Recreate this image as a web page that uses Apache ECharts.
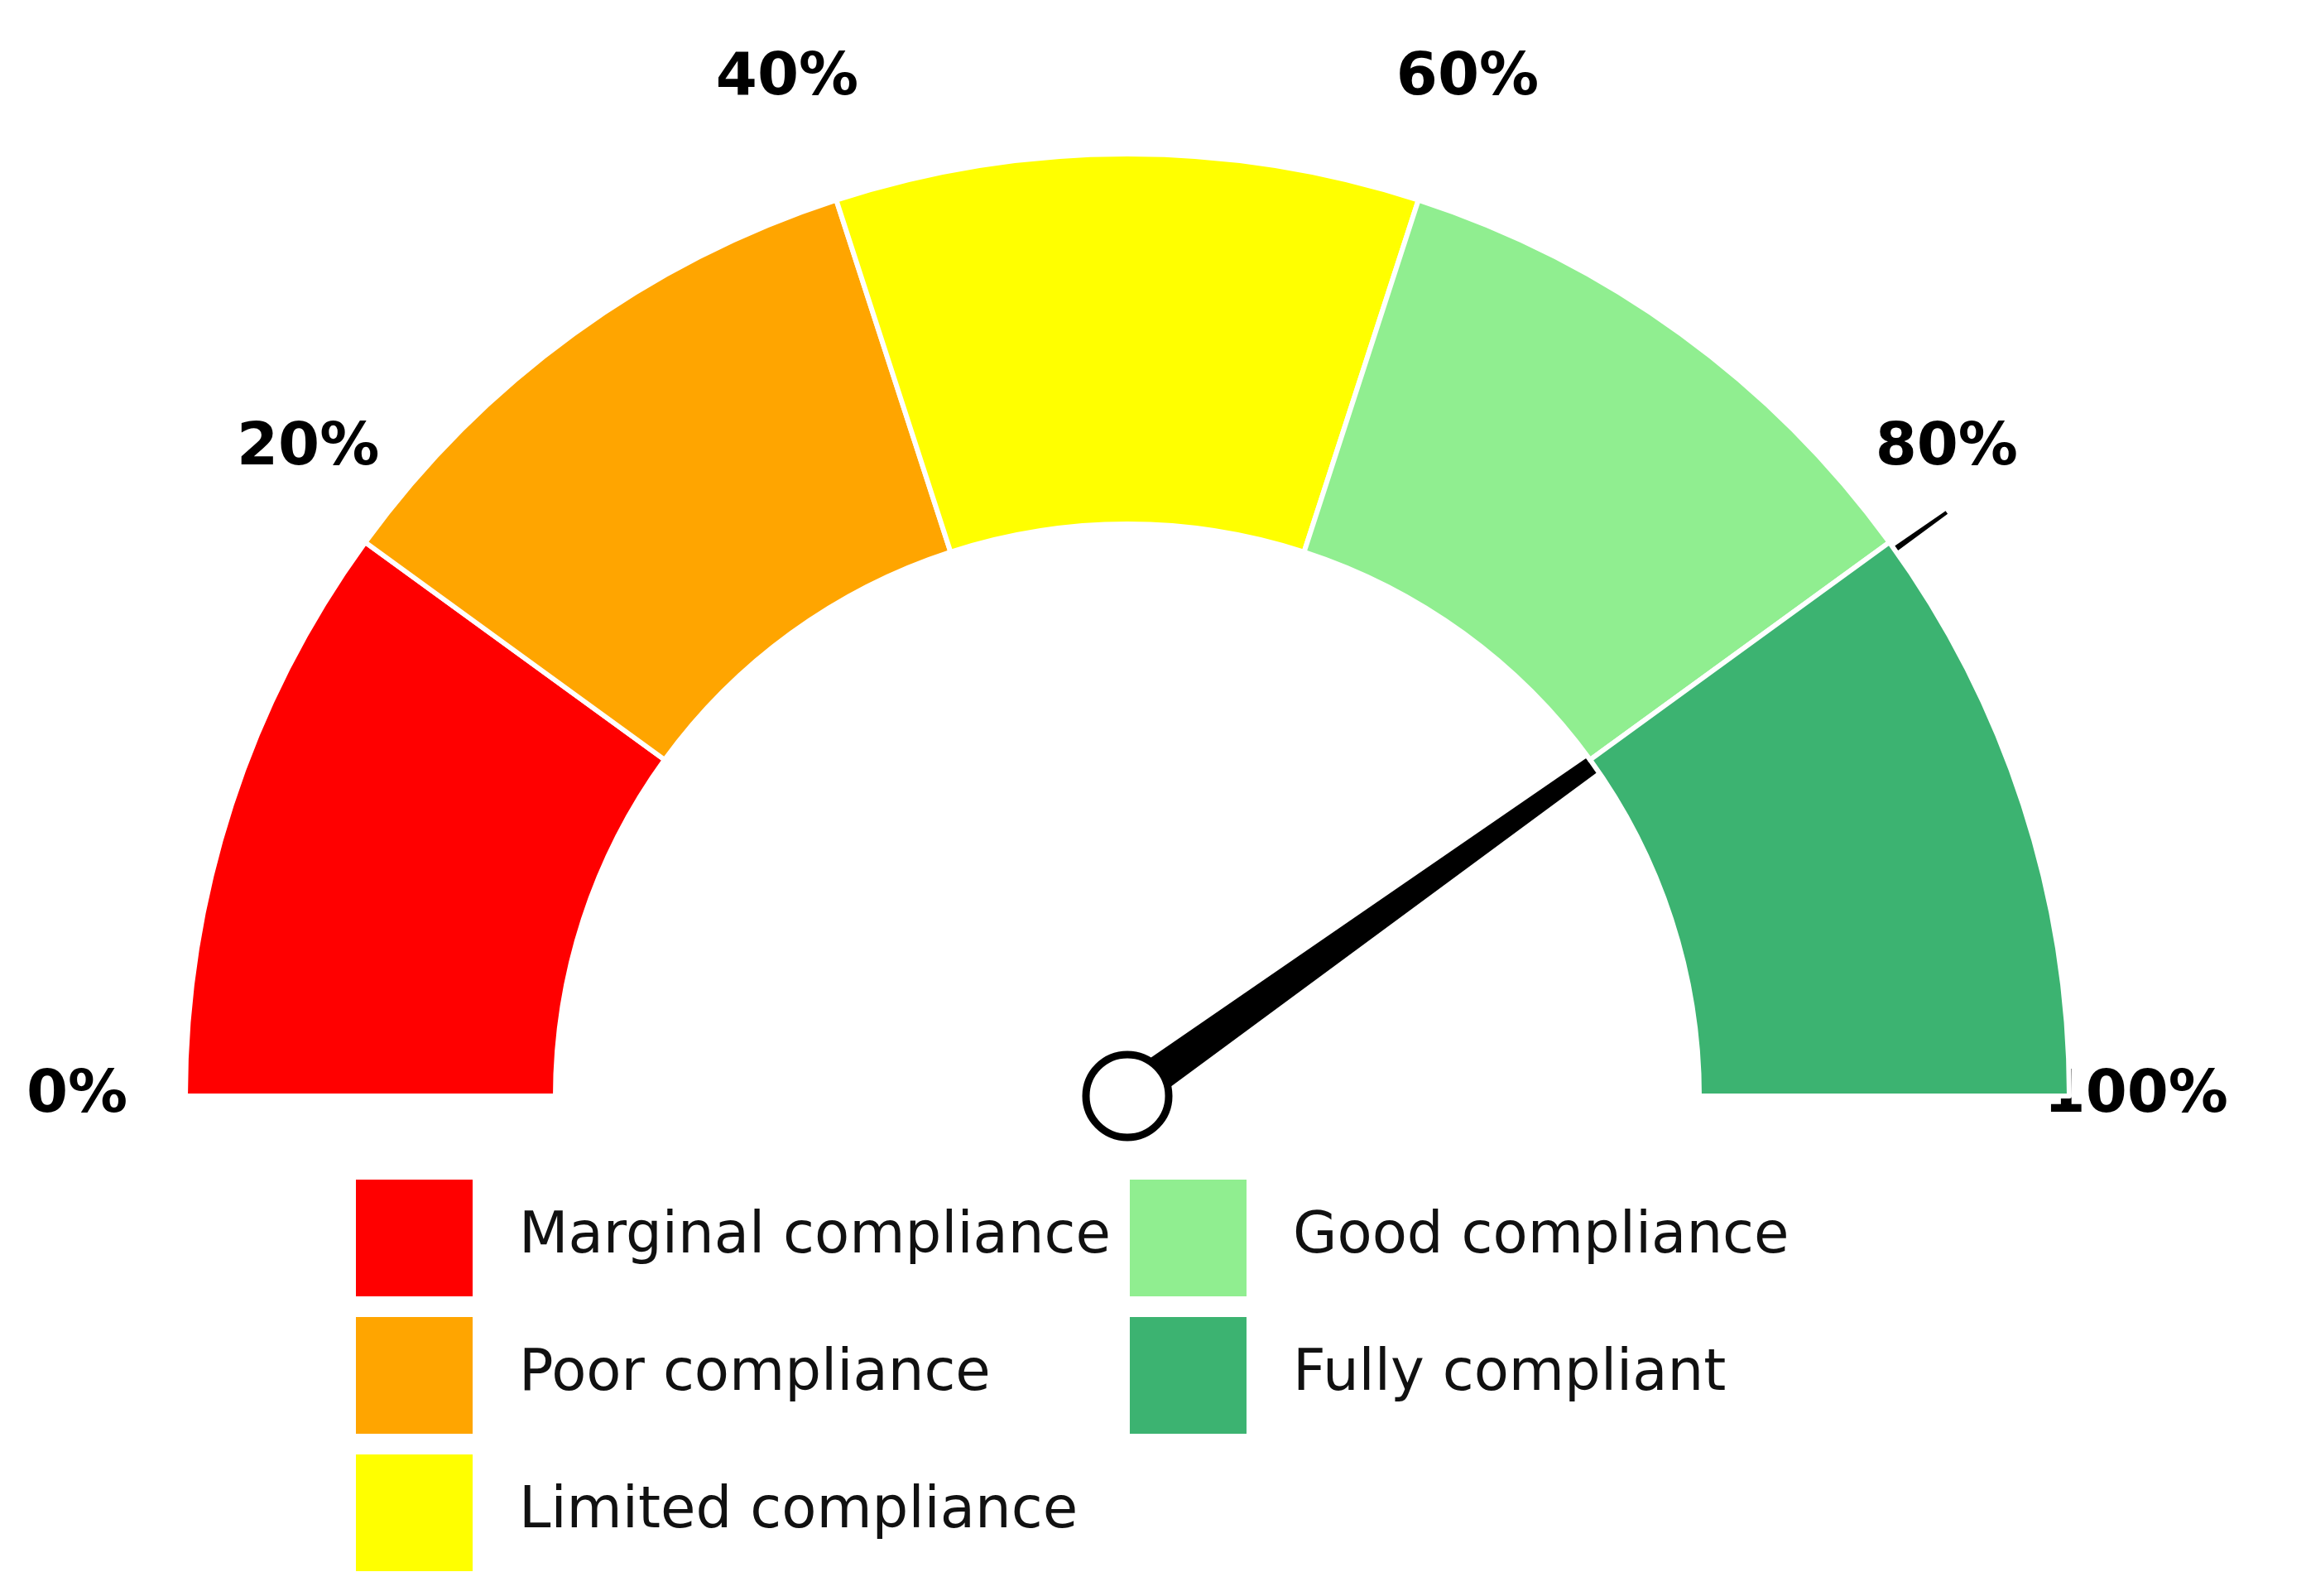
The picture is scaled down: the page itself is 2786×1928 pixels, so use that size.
<!DOCTYPE html>
<html><head><meta charset="utf-8">
<script src="https://cdn.jsdelivr.net/npm/echarts@6/dist/echarts.min.js"></script>
<style>html,body{margin:0;padding:0;background:#fff}#c{width:2786px;height:1928px}</style>
</head><body><div id="c"></div>
<script>
const categories = ['Marginal compliance','Poor compliance','Limited compliance','Good compliance','Fully compliant'];
const bandValues = [20,20,20,20,20];
const colors = ['#FF0000','#FFA500','#FFFF00','#90EE90','#3CB371'];
const needleValue = [80.3];
const tickLabels = ['0%','20%','40%','60%','80%','100%'];

const chart = echarts.init(document.getElementById('c'), null, {renderer:'canvas'});
const pieData = categories.map((n,i)=>({name:n,value:bandValues[i],itemStyle:{color:colors[i]}}));
pieData.push({name:'_hidden',value:bandValues.reduce((a,b)=>a+b,0),itemStyle:{color:'rgba(0,0,0,0)',borderWidth:0},emphasis:{disabled:true},label:{show:false}});
const C=[1362,1324];
chart.setOption({
  backgroundColor:'#fff',
  animation:false,
  legend:{
    data:categories, orient:'vertical', left:423, top:1418, height:520,
    itemWidth:143, itemHeight:143, itemGap:21, icon:'rect',
    textStyle:{fontFamily:'DejaVu Sans',fontSize:69,color:'#111',width:846,overflow:'truncate',padding:[0,0,0,50]}
  },
  series:[
    {type:'pie',center:C,radius:[691,1138],startAngle:180,clockwise:true,silent:true,
     label:{show:false},labelLine:{show:false},
     itemStyle:{borderColor:'#fff',borderWidth:6},data:pieData},
    {type:'gauge',center:C,radius:1140,startAngle:180,endAngle:0,min:0,max:100,splitNumber:5,
     axisLine:{show:false,lineStyle:{width:0}},axisTick:{show:false},splitLine:{show:false},
     axisLabel:{distance:-210,fontFamily:'DejaVu Sans',fontWeight:'bold',fontSize:72,color:'#000',
       align:'center',verticalAlign:'middle',
       formatter:v=>tickLabels[Math.round(v/20)]},
     pointer:{show:true,icon:'path://M4.5,0 L5.5,0 L10,100 L0,100 Z',length:'106.6%',width:44,offsetCenter:[0,0],itemStyle:{color:'#000'}},
     anchor:{show:true,showAbove:true,size:100,itemStyle:{color:'#fff',borderColor:'#000',borderWidth:9}},
     title:{show:false},detail:{show:false},
     data:[{value:needleValue[0]}]}
  ]
});
</script></body></html>
